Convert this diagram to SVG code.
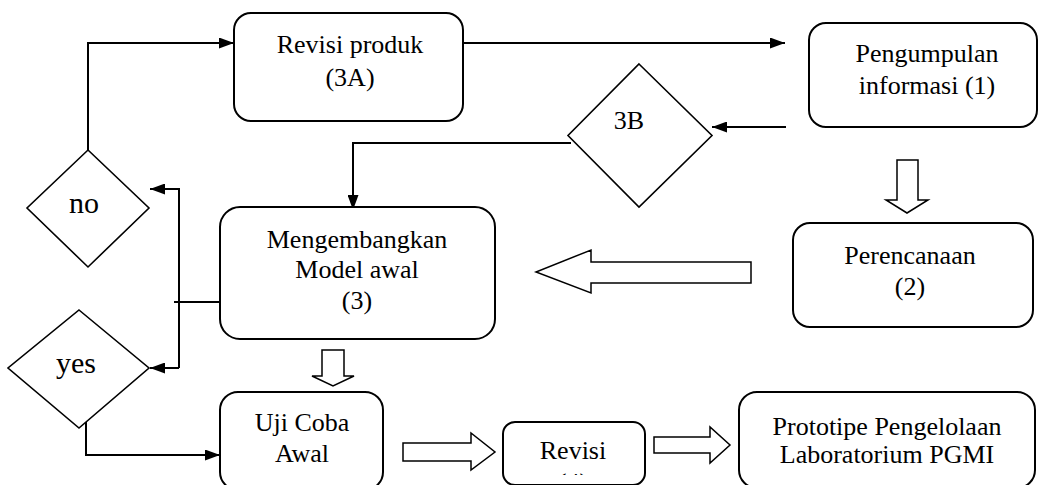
<svg xmlns="http://www.w3.org/2000/svg" width="1038" height="485" viewBox="0 0 1038 485">
  <style>
    .box { fill: #fff; stroke: #000; stroke-width: 2; }
    .dia { fill: #fff; stroke: #000; stroke-width: 1.6; }
    .blk { fill: #fff; stroke: #000; stroke-width: 1.5; stroke-linejoin: miter; }
    .con { fill: none; stroke: #000; stroke-width: 2; }
    .t { font-family: 'Liberation Serif', 'Times New Roman', Times, 'DejaVu Serif', serif; font-size: 26px; fill: #000; text-anchor: middle; }
    .big { font-size: 30px; }
  </style>
  <defs>
    <marker id="ah" viewBox="0 0 15 11" refX="15" refY="5.5" markerWidth="15" markerHeight="11" markerUnits="userSpaceOnUse" orient="auto">
      <path d="M0,0 L15,5.5 L0,11 Z" fill="#000"/>
    </marker>
    <clipPath id="clipRev">
      <rect x="503" y="422" width="142" height="53"/>
    </clipPath>
  </defs>
  <rect width="1038" height="485" fill="#fff"/>

  <g id="connectors">
    <path class="con" d="M88,150 V43 H234" marker-end="url(#ah)"/>
    <path class="con" d="M463,43 H785" marker-end="url(#ah)"/>
    <path class="con" d="M786,127 H712" marker-end="url(#ah)"/>
    <path class="con" d="M571,143 H353 V210" marker-end="url(#ah)"/>
    <path class="con" d="M220,302 H174"/>
    <path class="con" d="M179,368 V189 H150" marker-end="url(#ah)"/>
    <path class="con" d="M179,368 H150" marker-end="url(#ah)"/>
    <path class="con" d="M86,422 V455 H220" marker-end="url(#ah)"/>
    <polygon class="blk" points="897,160 918,160 918,200 928,200 907,213 886,200 897,200"/>
    <polygon class="blk" points="751,262 751,283 591,283 591,293 536,272 591,250 591,262"/>
    <polygon class="blk" points="322,350 344,350 344,376 354,376 333,386 312,376 322,376"/>
    <polygon class="blk" points="403,443 471,443 471,433 495,452 471,470 471,461 403,461"/>
    <polygon class="blk" points="654,437 710,437 710,427 730,445 710,463 710,453 654,453"/>
  </g>

  <g id="revisi-produk">
    <rect class="box" x="234" y="13" width="229" height="108" rx="17"/>
    <text class="t" x="350" y="53">Revisi produk</text>
    <text class="t" x="350" y="86">(3A)</text>
  </g>

  <g id="pengumpulan">
    <rect class="box" x="809" y="23" width="228" height="104" rx="17"/>
    <text class="t" x="927" y="62">Pengumpulan</text>
    <text class="t" x="927" y="94">informasi (1)</text>
  </g>

  <g id="d3b">
    <polygon class="dia" points="639,64 712,135.5 639,207 568,135.5"/>
    <text class="t" x="629" y="129">3B</text>
  </g>

  <g id="perencanaan">
    <rect class="box" x="793" y="223" width="240" height="104" rx="17"/>
    <text class="t" x="910" y="264">Perencanaan</text>
    <text class="t" x="910" y="295">(2)</text>
  </g>

  <g id="mengembangkan">
    <rect class="box" x="220" y="207" width="275" height="132" rx="20"/>
    <text class="t" x="357" y="248">Mengembangkan</text>
    <text class="t" x="357" y="278">Model awal</text>
    <text class="t" x="357" y="309">(3)</text>
  </g>

  <g id="no">
    <polygon class="dia" points="88,150 149,208 88,267 27,208"/>
    <text class="t big" x="84" y="213">no</text>
  </g>

  <g id="yes">
    <polygon class="dia" points="79,310 149,368 79,428 8,368"/>
    <text class="t big" x="76" y="373">yes</text>
  </g>

  <g id="uji-coba">
    <rect class="box" x="220" y="392" width="163" height="98" rx="18"/>
    <text class="t" x="302" y="431">Uji Coba</text>
    <text class="t" x="302" y="462">Awal</text>
  </g>

  <g id="revisi">
    <rect class="box" x="503" y="422" width="142" height="63" rx="12"/>
    <text class="t" x="573" y="459">Revisi</text>
    <text class="t" x="573" y="491" clip-path="url(#clipRev)">(4)</text>
  </g>

  <g id="prototipe">
    <rect class="box" x="739" y="392" width="296" height="96" rx="18"/>
    <text class="t" x="887" y="435">Prototipe Pengelolaan</text>
    <text class="t" x="887" y="463">Laboratorium PGMI</text>
  </g>
</svg>
